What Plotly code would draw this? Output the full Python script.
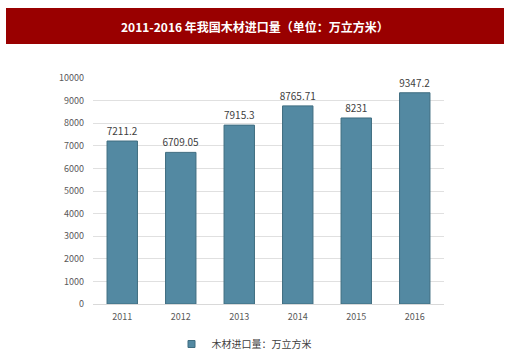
import plotly.graph_objects as go

years = ["2011", "2012", "2013", "2014", "2015", "2016"]
values = [7211.2, 6709.05, 7915.3, 8765.71, 8231, 9347.2]
labels = ["7211.2", "6709.05", "7915.3", "8765.71", "8231", "9347.2"]
series_name = "木材进口量：万立方米"
title = "2011-2016 年我国木材进口量（单位：万立方米）"

W, H = 508, 353
L, R, T, B = 93, 64, 78, 49
pw, ph = W - L - R, H - T - B

def px(x):
    return (x - L) / pw

def py(y):
    return (H - B - y) / ph

BAR = "#5389a2"
EDGE = "#3f6d80"

fig = go.Figure()
fig.add_trace(go.Bar(
    x=years, y=values, name=series_name, showlegend=False,
    text=labels, textposition="outside",
    textfont=dict(size=10, color="#404040"),
    constraintext="none",
    marker=dict(color=BAR, line=dict(color=EDGE, width=1)),
    cliponaxis=False,
))
# legend entry with small square marker
fig.add_trace(go.Scatter(
    x=[None], y=[None], mode="markers", name=series_name,
    marker=dict(symbol="square", size=7, color=BAR, line=dict(color=EDGE, width=1)),
))

fig.update_layout(
    width=W, height=H,
    margin=dict(l=L, r=R, t=T, b=B, autoexpand=False),
    paper_bgcolor="white", plot_bgcolor="white",
    font=dict(family="Noto Sans CJK SC, Open Sans, sans-serif", size=10, color="#595959"),
    bargap=0.48,
    showlegend=True,
    legend=dict(orientation="h", x=px(244), xanchor="center", y=py(344), yanchor="middle",
                font=dict(size=10, color="#404040"), itemwidth=30),
    xaxis=dict(showgrid=False, showline=True, linecolor="#d9d9d9", ticks="",
               tickfont=dict(size=9, color="#595959"), ticklabelstandoff=4),
    yaxis=dict(range=[0, 10000], dtick=1000, tickformat="d", showgrid=True, gridcolor="#e0e0e0",
               zeroline=False, ticks="", tickfont=dict(size=9, color="#595959"),
               ticklabelstandoff=8),
    shapes=[dict(type="rect", xref="paper", yref="paper",
                 x0=px(6), x1=px(504), y0=py(44), y1=py(8),
                 fillcolor="#990000", line=dict(width=0), layer="below")],
    annotations=[dict(text="<b>" + title + "</b>", xref="paper", yref="paper",
                      x=px(255), y=py(26), xanchor="center", yanchor="middle",
                      showarrow=False, font=dict(size=12, color="white"))],
)

fig.write_html("out.html")
